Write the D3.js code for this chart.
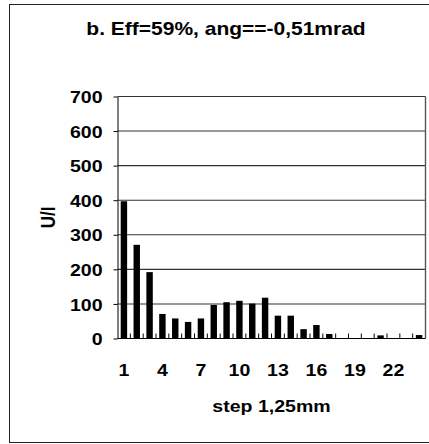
<!DOCTYPE html>
<html>
<head>
<meta charset="utf-8">
<script src="https://cdn.jsdelivr.net/npm/d3@7"></script>
<style>
  html, body { margin: 0; padding: 0; background: #fff; }
  svg { display: block; }
  text { font-family: "Liberation Sans", Arial, sans-serif; font-weight: bold; fill: #000; }
</style>
</head>
<body>
<svg id="chart" width="429" height="444"></svg>
<script>
// Step positions along the scan (1.25 mm each)
const steps = d3.range(1, 25);
// Measured U/I per step
const values = [397, 271, 192, 71, 58, 48, 58, 97, 105, 109, 101, 118,
                66, 66, 27, 39, 13, 0, 0, 0, 9, 0, 0, 10];
// Labelled steps on the horizontal axis
const xTickLabels = [1, 4, 7, 10, 13, 16, 19, 22];
// Value ticks on the vertical axis
const yTicks = [0, 100, 200, 300, 400, 500, 600, 700];

const titleText = "b. Eff=59%, ang==-0,51mrad";
const xTitle = "step 1,25mm";
const yTitle = "U/I";

const svg = d3.select("#chart");
const W = 429, H = 444;
const plot = { left: 117.5, right: 425.5, top: 96.5, bottom: 338.5 };
const sx = 1.15;       // horizontal widening of the lettering
const labelSize = "17px";

// Outer frame (right edge runs past the canvas)
svg.append("rect")
  .attr("x", 9.5).attr("y", 4.5)
  .attr("width", W).attr("height", 438)
  .attr("fill", "none").attr("stroke", "#222").attr("stroke-width", 1);

const x = d3.scaleBand()
  .domain(steps)
  .range([plot.left, plot.right])
  .paddingInner(0.5)
  .paddingOuter(0.25);

const y = d3.scaleLinear()
  .domain([0, 700])
  .range([plot.bottom, plot.top]);

// Horizontal gridlines
svg.append("g").selectAll("line")
  .data(yTicks.filter(d => d > 0))
  .join("line")
  .attr("x1", plot.left).attr("x2", plot.right)
  .attr("y1", d => y(d)).attr("y2", d => y(d))
  .attr("stroke", "#333").attr("stroke-width", 1.1);

// Right edge of the plot area
svg.append("line")
  .attr("x1", plot.right).attr("x2", plot.right)
  .attr("y1", plot.top).attr("y2", plot.bottom)
  .attr("stroke", "#555").attr("stroke-width", 1.4);

// Bars
svg.append("g").selectAll("rect")
  .data(values)
  .join("rect")
  .attr("x", (d, i) => x(steps[i]))
  .attr("width", x.bandwidth())
  .attr("y", d => y(d))
  .attr("height", d => y(0) - y(d))
  .attr("fill", "#000");

// Y axis: line, outward ticks and labels
const yAxis = d3.axisLeft(y).tickValues(yTicks).tickSize(4).tickSizeOuter(0).tickFormat(d3.format("d"));
const gy = svg.append("g").attr("transform", `translate(${plot.left},0)`).call(yAxis);
gy.select(".domain").attr("stroke", "#000");
gy.selectAll(".tick line").attr("stroke", "#000");
gy.selectAll(".tick text").remove();
gy.selectAll(".tick").append("text")
  .attr("text-anchor", "end")
  .attr("dy", "0.36em")
  .attr("transform", `translate(-15,0) scale(${sx},1)`)
  .style("font-size", labelSize)
  .text(d => d);

// X axis: baseline with inward ticks between steps
const boundaries = d3.range(0, steps.length + 1).map(i => plot.left + i * x.step());
svg.append("line")
  .attr("x1", plot.left).attr("x2", plot.right)
  .attr("y1", y(0)).attr("y2", y(0))
  .attr("stroke", "#000").attr("stroke-width", 1);
svg.append("g").selectAll("line")
  .data(boundaries.slice(1, -1))
  .join("line")
  .attr("x1", d => d).attr("x2", d => d)
  .attr("y1", y(0)).attr("y2", y(0) - 5)
  .attr("stroke", "#000").attr("stroke-width", 1);

// X tick labels
svg.append("g").selectAll("text")
  .data(xTickLabels)
  .join("text")
  .attr("text-anchor", "middle")
  .attr("transform", d => `translate(${x(d) + x.bandwidth() / 2},376) scale(${sx},1)`)
  .style("font-size", labelSize)
  .text(d => d);

// Title
svg.append("text")
  .attr("text-anchor", "middle")
  .attr("transform", `translate(226,35) scale(1.2,1)`)
  .style("font-size", "17.5px")
  .text(titleText);

// Axis titles
svg.append("text")
  .attr("text-anchor", "middle")
  .attr("transform", `translate(${(plot.left + plot.right) / 2},412) scale(${sx},1)`)
  .style("font-size", labelSize)
  .text(xTitle);

svg.append("text")
  .attr("text-anchor", "middle")
  .attr("transform", `translate(55,${(plot.top + plot.bottom) / 2}) rotate(-90) scale(1,1.2)`)
  .style("font-size", labelSize)
  .text(yTitle);
</script>
</body>
</html>
